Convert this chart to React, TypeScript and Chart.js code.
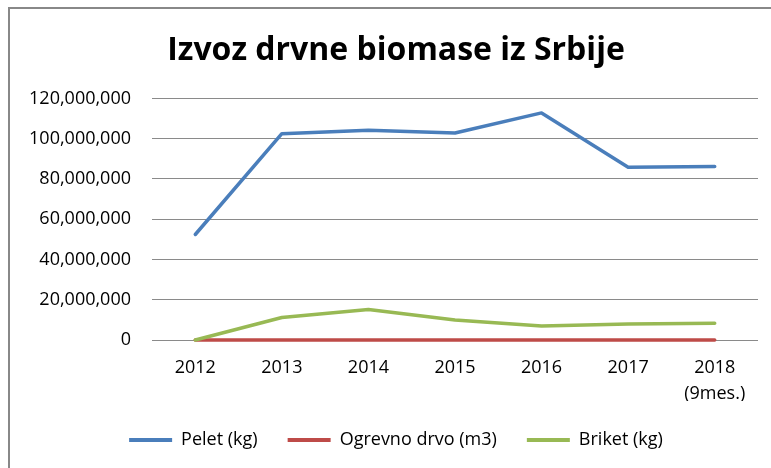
import React, { useEffect, useRef } from "react";
import { Chart, registerables } from "chart.js";

Chart.register(...registerables);

const categories: (string | string[])[] = ["2012", "2013", "2014", "2015", "2016", "2017", ["2018", "(9mes.)"]];
const peletKg = [52400000, 102500000, 104200000, 102800000, 112800000, 85800000, 86200000];
const ogrevnoDrvoM3 = [0, 0, 0, 0, 0, 0, 0];
const briketKg = [0, 11200000, 15200000, 9900000, 6900000, 7900000, 8300000];
const yTicksMin = 0;
const yTicksMax = 120000000;
const yTicksStep = 20000000;

const FONT = "'Open Sans', 'DejaVu Sans', sans-serif";

function shiftBox(chart: any, box: any, dx: number) {
  if (!box || box._shifted) return;
  box._shifted = true;
  const orig = box.draw.bind(box);
  box.draw = function (...args: any[]) {
    const ctx = chart.ctx;
    ctx.save();
    ctx.translate(dx, 0);
    orig(...args);
    ctx.restore();
  };
}

const boxShift = {
  id: "boxShift",
  beforeDraw(chart: any) {
    shiftBox(chart, chart.legend, 12);
    shiftBox(chart, chart.titleBlock, 12);
  },
};

export default function App() {
  const ref = useRef<HTMLCanvasElement | null>(null);

  useEffect(() => {
    if (!ref.current) return;
    const chart = new Chart(ref.current, {
      type: "line",
      data: {
        labels: categories,
        datasets: [
          {
            label: "Pelet (kg)",
            data: peletKg,
            borderColor: "#4a7ebb",
            backgroundColor: "#4a7ebb",
            borderWidth: 3.5,
            pointRadius: 0,
            borderCapStyle: "round",
            borderJoinStyle: "round",
            clip: false,
            order: 3,
          },
          {
            label: "Ogrevno drvo (m3)",
            data: ogrevnoDrvoM3,
            borderColor: "#be4b48",
            backgroundColor: "#be4b48",
            borderWidth: 3.5,
            pointRadius: 0,
            borderCapStyle: "round",
            borderJoinStyle: "round",
            clip: false,
            order: 2,
          },
          {
            label: "Briket (kg)",
            data: briketKg,
            borderColor: "#98b954",
            backgroundColor: "#98b954",
            borderWidth: 3.5,
            pointRadius: 0,
            borderCapStyle: "round",
            borderJoinStyle: "round",
            clip: false,
            order: 1,
          },
        ],
      },
      options: {
        responsive: false,
        animation: false,
        layout: { padding: { left: 0, right: 28, top: 0, bottom: 16 } },
        plugins: {
          tooltip: { enabled: false },
          title: {
            display: true,
            text: "Izvoz drvne biomase iz Srbije",
            color: "#000",
            font: { family: FONT, size: 32, weight: "bold", lineHeight: 1.2 },
            padding: { top: 23, bottom: 28 },
          },
          legend: {
            position: "bottom",
            labels: {
              color: "#000",
              font: { family: FONT, size: 18 },
              boxWidth: 43,
              boxHeight: 4,
              padding: 30,
              sort: (a: any, b: any) => a.datasetIndex - b.datasetIndex,
              generateLabels: (c: any) =>
                Chart.defaults.plugins.legend.labels
                  .generateLabels(c)
                  .map((l: any) => ({ ...l, lineWidth: 0 })),
            },
          },
        },
        scales: {
          x: {
            offset: true,
            grid: { display: false, drawTicks: false },
            border: { display: false },
            ticks: {
              color: "#000",
              font: { family: FONT, size: 18, lineHeight: 1.45 },
              padding: 15,
              maxRotation: 0,
              autoSkip: false,
            },
            afterFit: (scale: any) => {
              scale.height = 61;
            },
          },
          y: {
            min: yTicksMin,
            max: yTicksMax,
            grid: { color: "#8a8a8a", lineWidth: 1, drawTicks: false },
            border: { display: false },
            ticks: {
              stepSize: yTicksStep,
              color: "#000",
              font: { family: FONT, size: 18 },
              padding: 21,
              callback: (v: any) => Number(v).toLocaleString("en-US"),
            },
            afterFit: (scale: any) => {
              scale.width = 142;
            },
          },
        },
      },
      plugins: [boxShift],
    });
    return () => chart.destroy();
  }, []);

  return (
    <div
      style={{
        position: "fixed",
        left: 8,
        top: 7,
        width: 780,
        height: 470,
        border: "2px solid #888",
        boxSizing: "border-box",
        background: "#fff",
      }}
    >
      <canvas ref={ref} width={776} height={466} style={{ display: "block", width: 776, height: 466 }} />
    </div>
  );
}
